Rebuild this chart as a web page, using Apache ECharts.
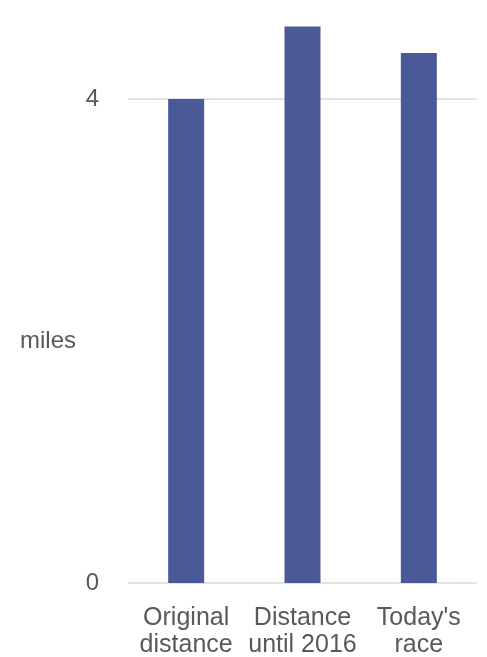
<!DOCTYPE html>
<html>
<head>
<meta charset="utf-8">
<script src="https://cdn.jsdelivr.net/npm/echarts@6/dist/echarts.min.js"></script>
<style>
  html, body { margin: 0; padding: 0; background: #fff; }
  #chart { width: 487px; height: 657px; }
</style>
</head>
<body>
<div id="chart"></div>
<script>
const categories = ['Original\ndistance', 'Distance\nuntil 2016', "Today's\nrace"]
const miles = [4, 4.6, 4.38]

const chart = echarts.init(document.getElementById('chart'))

chart.setOption({
  animation: false,
  backgroundColor: '#ffffff',
  grid: {
    left: 128,
    right: 10,
    top: 99,
    bottom: 74,
    containLabel: false,
    outerBoundsMode: 'none'
  },
  xAxis: {
    type: 'category',
    data: categories,
    axisLine: { show: false },
    axisTick: { show: false },
    axisLabel: {
      interval: 0,
      hideOverlap: false,
      margin: 22,
      color: '#595959',
      fontSize: 25,
      lineHeight: 27,
      fontFamily: 'Liberation Sans, Arial, sans-serif'
    }
  },
  yAxis: {
    type: 'value',
    min: 0,
    max: 4,
    interval: 4,
    name: 'miles',
    nameLocation: 'middle',
    nameRotate: 0,
    nameGap: 52,
    nameTextStyle: {
      color: '#595959',
      fontSize: 24,
      fontFamily: 'Liberation Sans, Arial, sans-serif'
    },
    axisLine: { show: false },
    axisTick: { show: false },
    axisLabel: {
      margin: 29,
      color: '#595959',
      fontSize: 24,
      fontFamily: 'Liberation Sans, Arial, sans-serif'
    },
    splitLine: {
      lineStyle: { color: '#d9d9d9', width: 1.5 }
    }
  },
  series: [{
    type: 'bar',
    data: miles,
    barWidth: 36,
    clip: false,
    itemStyle: { color: '#4a5a99' }
  }]
})
</script>
</body>
</html>
